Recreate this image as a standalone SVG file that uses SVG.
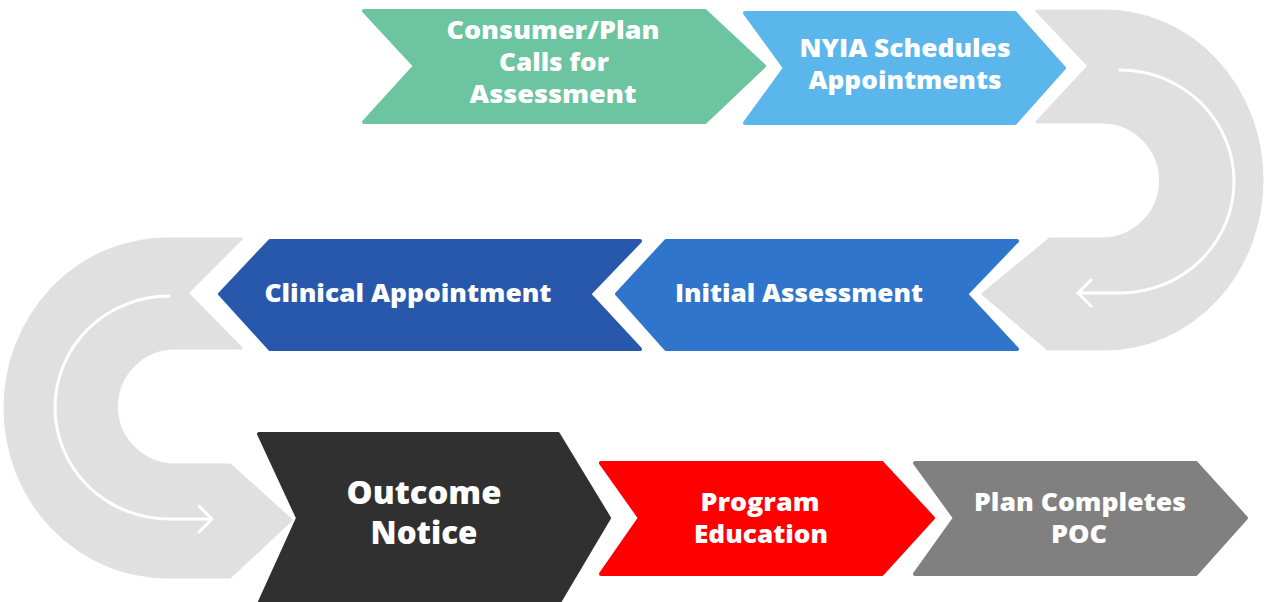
<svg xmlns="http://www.w3.org/2000/svg" width="1264" height="602" viewBox="0 0 1264 602">
<style>
.shape{stroke-linejoin:round;stroke-width:4}
.t{font-family:"Open Sans","Liberation Sans",sans-serif;font-weight:800;fill:#fff;text-anchor:middle}
.arc{fill:#e0e0e0;stroke:#e0e0e0;stroke-width:3;stroke-linejoin:round}
.flow{fill:none;stroke:#fff;stroke-width:3;stroke-linecap:round;stroke-linejoin:round}
</style>
<rect width="1264" height="602" fill="#fff"/>
<g id="connectors">
<path class="arc" d="M1037,11 L1105,11 A157,169 0 0 1 1105,349 L1048,349 L983,294 L1050,239 L1102,239 A58.5,58.5 0 0 0 1102,122 L1037,122 L1089,66 Z"/>
<path class="flow" d="M1120,70 A114,111.5 0 0 1 1120,293 L1078,293 M1091,280 L1078,293 L1091,306"/>
<path class="arc" d="M241,239 L167,239 A162,169 0 0 0 167,577 L230,577 L291,520 L230,465 L175,465 A58.5,58.5 0 0 1 175,348 L241,348 L187,293 Z"/>
<path class="flow" d="M169,296 A114,111.5 0 0 0 169,519 L212,519 M199,506 L212,519 L199,532"/>
</g>
<g id="n1">
<polygon class="shape" fill="#6dc4a0" stroke="#6dc4a0" points="364,11 705,11 764,66 705,122 364,122 415,66"/>
<text class="t" font-size="24" x="553" y="39" textLength="213" lengthAdjust="spacingAndGlyphs">Consumer/Plan</text>
<text class="t" font-size="24" x="554" y="71" textLength="110" lengthAdjust="spacingAndGlyphs">Calls for</text>
<text class="t" font-size="24" x="553" y="103" textLength="167" lengthAdjust="spacingAndGlyphs">Assessment</text>
</g>
<g id="n2">
<polygon class="shape" fill="#5bb6ec" stroke="#5bb6ec" points="745,13 1015,13 1064,68 1015,123 745,123 785,68"/>
<text class="t" font-size="24" x="905" y="57" textLength="211" lengthAdjust="spacingAndGlyphs">NYIA Schedules</text>
<text class="t" font-size="24" x="905" y="89" textLength="193" lengthAdjust="spacingAndGlyphs">Appointments</text>
</g>
<g id="n3">
<polygon class="shape" fill="#3075cc" stroke="#3075cc" points="1017,241 966,294 1017,349 666,349 617,294 666,241"/>
<text class="t" font-size="24" x="799" y="302" textLength="248" lengthAdjust="spacingAndGlyphs">Initial Assessment</text>
</g>
<g id="n4">
<polygon class="shape" fill="#2858ab" stroke="#2858ab" points="640,241 589,294 640,349 270,349 220,294 270,241"/>
<text class="t" font-size="24" x="408" y="302" textLength="287" lengthAdjust="spacingAndGlyphs">Clinical Appointment</text>
</g>
<g id="n5">
<polygon class="shape" fill="#303030" stroke="#303030" points="259,434 558,434 609,518 558,604 259,604 298,518"/>
<text class="t" font-size="31" x="424" y="504" textLength="155" lengthAdjust="spacingAndGlyphs">Outcome</text>
<text class="t" font-size="31" x="424" y="544" textLength="107" lengthAdjust="spacingAndGlyphs">Notice</text>
</g>
<g id="n6">
<polygon class="shape" fill="#ff0000" stroke="#ff0000" points="601,463 882,463 933,518 882,574 601,574 640,518"/>
<text class="t" font-size="24" x="760" y="511" textLength="119" lengthAdjust="spacingAndGlyphs">Program</text>
<text class="t" font-size="24" x="761" y="543" textLength="134" lengthAdjust="spacingAndGlyphs">Education</text>
</g>
<g id="n7">
<polygon class="shape" fill="#808080" stroke="#808080" points="915,463 1196,463 1246,518 1196,574 915,574 955,518"/>
<text class="t" font-size="24" x="1080" y="511" textLength="212" lengthAdjust="spacingAndGlyphs">Plan Completes</text>
<text class="t" font-size="24" x="1079" y="543" textLength="56" lengthAdjust="spacingAndGlyphs">POC</text>
</g>
</svg>
